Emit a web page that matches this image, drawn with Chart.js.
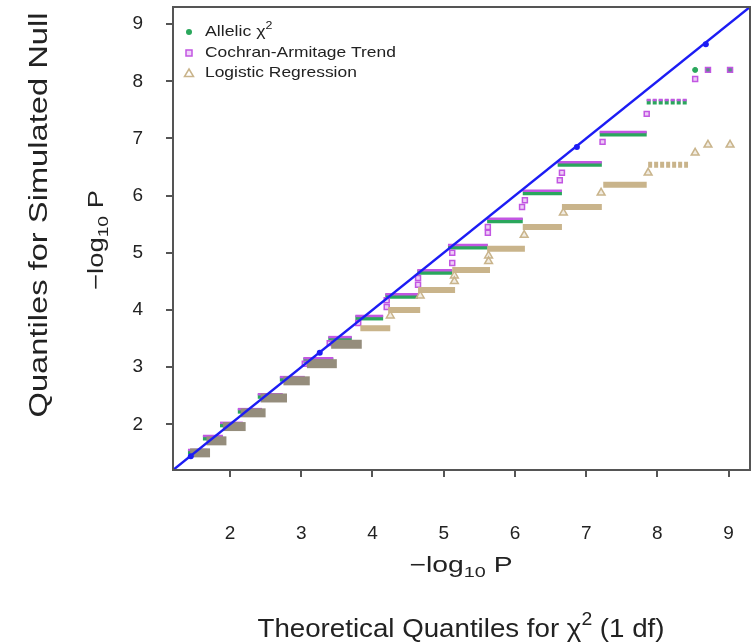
<!DOCTYPE html>
<html>
<head>
<meta charset="utf-8">
<script src="https://cdn.jsdelivr.net/npm/chart.js@4.4.0/dist/chart.umd.min.js"></script>
<style>
html, body { margin: 0; padding: 0; background: #fff; }
#wrap { width: 751px; height: 644px; }
</style>
</head>
<body>
<div id="wrap"><canvas id="qq"></canvas></div>
<script>
// axes
const tickVals = [2, 3, 4, 5, 6, 7, 8, 9];
const axisMin = 1.2;
const axisMax = 9.3;

// reference line y = x and the blue dots on it
const refX = [1.2, 9.3];
const refY = [1.2, 9.3];
const blueDotX = [1.45, 3.26, 6.87, 8.68];
const blueDotY = [1.44, 3.25, 6.85, 8.65];

// Allelic chi2: horizontal runs (level, from x, to x) + lone top points
const allelicLevel = [1.515, 1.76, 1.99, 2.23, 2.49, 2.79, 3.12, 3.49, 3.86, 4.24, 4.66, 5.10, 5.56, 6.05, 6.55, 7.08, 7.64];
const allelicFrom  = [1.41, 1.62, 1.86, 2.11, 2.39, 2.70, 3.03, 3.38, 3.76, 4.18, 4.63, 5.06, 5.61, 6.11, 6.60, 7.19, 7.85];
const allelicTo    = [1.68, 1.90, 2.18, 2.45, 2.74, 3.05, 3.45, 3.71, 4.15, 4.64, 5.12, 5.62, 6.11, 6.66, 7.22, 7.85, 8.43];
const allelicTopX = [8.53, 8.71, 9.02];
const allelicTopY = [8.20, 8.20, 8.20];

// Cochran-Armitage trend: runs sit just above the allelic ones, plus the drop points
const trendLevel = [1.55, 1.795, 2.025, 2.265, 2.525, 2.825, 3.155, 3.525, 3.895, 4.275, 4.695, 5.135, 5.595, 6.085, 6.585, 7.115, 7.675];
const trendFrom  = [1.41, 1.62, 1.86, 2.11, 2.39, 2.70, 3.03, 3.38, 3.76, 4.18, 4.63, 5.06, 5.61, 6.11, 6.60, 7.19, 7.85];
const trendTo    = [1.68, 1.90, 2.18, 2.45, 2.74, 3.05, 3.45, 3.71, 4.15, 4.64, 5.12, 5.62, 6.11, 6.66, 7.22, 7.85, 8.43];
const trendDropX = [3.05, 3.40, 3.80, 4.20, 4.20, 4.64, 4.64, 5.12, 5.12, 5.62, 5.62, 6.14, 6.10, 6.66, 6.63, 7.23, 7.85, 8.53, 8.71, 9.02];
const trendDropY = [3.06, 3.42, 3.77, 4.17, 4.05, 4.56, 4.44, 5.00, 4.82, 5.45, 5.35, 5.92, 5.80, 6.40, 6.27, 6.94, 7.43, 8.04, 8.20, 8.20];

// Logistic regression: runs lag one step behind, plus the drop points
const logitLevel = [1.50, 1.71, 1.96, 2.20, 2.46, 2.76, 3.06, 3.40, 3.68, 4.00, 4.35, 4.70, 5.07, 5.45, 5.80, 6.19, 6.54];
const logitFrom  = [1.44, 1.67, 1.90, 2.15, 2.43, 2.75, 3.08, 3.42, 3.83, 4.22, 4.64, 5.12, 5.61, 6.11, 6.66, 7.24, 7.87];
const logitTo    = [1.72, 1.95, 2.22, 2.50, 2.80, 3.12, 3.50, 3.85, 4.25, 4.67, 5.16, 5.65, 6.14, 6.66, 7.22, 7.85, 8.43];
const logitDropX = [4.25, 4.67, 5.15, 5.15, 5.63, 5.63, 6.13, 6.68, 7.21, 7.87, 8.53, 8.71, 9.02];
const logitDropY = [3.90, 4.25, 4.60, 4.50, 4.95, 4.85, 5.31, 5.70, 6.05, 6.40, 6.75, 6.89, 6.89];

const FONT = "'Liberation Sans', Arial, Helvetica, sans-serif";
const green = '#2aa75c';
const purple = '#c256e2';
const tan = '#c9b48b';
const tanDark = '#958d7c';
const blue = '#1c1cf4';

function runs(levels, from, to) {
    const pts = [];
    levels.forEach((y, i) => {
        pts.push({ x: from[i], y: y });
        pts.push({ x: to[i], y: y });
        pts.push({ x: null, y: null });
    });
    return pts;
}
function pairs(xs, ys) {
    return xs.map((x, i) => ({ x: x, y: ys[i] }));
}

// text with sub/superscripts, optionally squeezed to a width
function richText(ctx, parts, x, y, size, align, fitWidth, rotate) {
    let w = 0;
    const measured = parts.map(p => {
        const s = p[1] ? size * 0.7 : size;
        ctx.font = s + 'px ' + FONT;
        const pw = ctx.measureText(p[0]).width;
        w += pw;
        return { t: p[0], kind: p[1], s: s, w: pw };
    });
    const sx = fitWidth ? fitWidth / w : 1;
    ctx.save();
    ctx.translate(x, y);
    if (rotate) ctx.rotate(-Math.PI / 2);
    ctx.scale(sx, 1);
    ctx.fillStyle = '#222';
    ctx.textBaseline = 'middle';
    ctx.textAlign = 'left';
    let cx = align === 'center' ? -w / 2 : 0;
    measured.forEach(m => {
        ctx.font = m.s + 'px ' + FONT;
        let dy = 0;
        if (m.kind === 'sub') dy = size * 0.3;
        if (m.kind === 'sup') dy = -size * 0.38;
        ctx.fillText(m.t, cx, dy);
        cx += m.w;
    });
    ctx.restore();
}

const decor = {
    id: 'decor',
    beforeDraw(chart) {
        const c = chart.ctx;
        c.save();
        c.fillStyle = '#fff';
        c.fillRect(0, 0, chart.width, chart.height);
        c.restore();
    },
    afterDraw(chart) {
        const c = chart.ctx;
        const a = chart.chartArea;
        // box
        c.save();
        c.strokeStyle = '#555';
        c.lineWidth = 2;
        c.strokeRect(a.left, a.top, a.right - a.left, a.bottom - a.top);
        c.restore();

        // axis titles
        richText(c, [['\u2212log', ''], ['10', 'sub'], [' P', '']], 461, 566, 22, 'center', 103);
        richText(c, [['Theoretical Quantiles for \u03c7', ''], ['2', 'sup'], [' (1 df)', '']], 461, 630, 26, 'center', 407);
        richText(c, [['\u2212log', ''], ['10', 'sub'], [' P', '']], 97, 240, 22, 'center', 100, true);
        richText(c, [['Quantiles for Simulated Null', '']], 40, 215, 26, 'center', 405, true);

        // legend
        const lx = 189, tx = 205, rows = [32, 53, 73];
        c.save();
        c.fillStyle = green;
        c.beginPath(); c.arc(lx, rows[0], 3, 0, Math.PI * 2); c.fill();
        c.strokeStyle = purple; c.lineWidth = 1.5;
        c.fillStyle = 'rgba(194,86,226,0.25)';
        c.fillRect(lx - 3, rows[1] - 3, 6, 6);
        c.strokeRect(lx - 3, rows[1] - 3, 6, 6);
        c.strokeStyle = tan;
        c.beginPath();
        c.moveTo(lx, rows[2] - 4); c.lineTo(lx + 4.5, rows[2] + 3.5); c.lineTo(lx - 4.5, rows[2] + 3.5); c.closePath();
        c.stroke();
        c.restore();
        const sq = 1.16;
        c.font = '15px ' + FONT;
        richText(c, [['Allelic \u03c7', ''], ['2', 'sup']], tx, rows[0], 15, 'left', c.measureText('Allelic \u03c7').width * sq + 8);
        c.font = '15px ' + FONT;
        richText(c, [['Cochran-Armitage Trend', '']], tx, rows[1], 15, 'left', c.measureText('Cochran-Armitage Trend').width * sq);
        c.font = '15px ' + FONT;
        richText(c, [['Logistic Regression', '']], tx, rows[2], 15, 'left', c.measureText('Logistic Regression').width * sq);
    }
};

const tickOpts = {
    font: { size: 19, family: FONT },
    color: '#222',
    autoSkip: false,
    maxRotation: 0
};
const gridOpts = {
    drawOnChartArea: false,
    drawTicks: true,
    tickLength: 7,
    color: '#555',
    lineWidth: 2
};

new Chart(document.getElementById('qq'), {
    type: 'scatter',
    data: {
        datasets: [
            {
                data: pairs(refX, refY), showLine: true, borderColor: blue, borderWidth: 2.5,
                pointRadius: 0
            },
            {
                data: pairs(blueDotX, blueDotY), pointRadius: 3, pointBackgroundColor: blue,
                pointBorderColor: blue, borderWidth: 0
            },
            {
                data: runs(logitLevel, logitFrom, logitTo), showLine: true, pointRadius: 0,
                borderColor: tan, borderWidth: 6, borderCapStyle: 'butt',
                segment: {
                    borderColor: ctx => ctx.p0.parsed.y < 3.5 ? tanDark : tan,
                    borderWidth: ctx => ctx.p0.parsed.y < 3.5 ? 9 : 6,
                    borderDash: ctx => ctx.p0.parsed.y > 6.4 ? [4, 2] : undefined
                }
            },
            {
                data: pairs(logitDropX, logitDropY), pointStyle: 'triangle', pointRadius: 4.5,
                pointBorderColor: tan, pointBackgroundColor: 'rgba(201,180,139,0.25)', pointBorderWidth: 1.5
            },
            {
                data: runs(trendLevel, trendFrom, trendTo), showLine: true, pointRadius: 0,
                borderColor: purple, borderWidth: 2.5, borderCapStyle: 'butt',
                segment: {
                    borderDash: ctx => ctx.p0.parsed.y > 7.5 ? [4, 2] : undefined
                }
            },
            {
                data: pairs(trendDropX, trendDropY), pointStyle: 'rect', pointRadius: 3.5,
                pointBorderColor: purple, pointBackgroundColor: 'rgba(194,86,226,0.3)', pointBorderWidth: 1.5
            },
            {
                data: runs(allelicLevel, allelicFrom, allelicTo), showLine: true, pointRadius: 0,
                borderColor: green, borderWidth: 5, borderCapStyle: 'butt',
                segment: {
                    borderDash: ctx => ctx.p0.parsed.y > 7.5 ? [4, 2] : undefined
                }
            },
            {
                data: pairs(allelicTopX, allelicTopY), pointRadius: 2.5,
                pointBackgroundColor: green, pointBorderColor: green
            }
        ]
    },
    options: {
        responsive: true,
        maintainAspectRatio: false,
        animation: false,
        layout: { autoPadding: false, padding: { left: 0, top: 7, right: 1, bottom: 0 } },
        plugins: { legend: { display: false }, tooltip: { enabled: false } },
        scales: {
            x: {
                type: 'linear', min: axisMin, max: axisMax,
                afterBuildTicks: s => { s.ticks = tickVals.map(v => ({ value: v })); },
                afterFit: s => { s.height = 174; s.paddingLeft = 0; s.paddingRight = 0; },
                grid: gridOpts,
                border: { display: false },
                ticks: Object.assign({ padding: 45 }, tickOpts)
            },
            y: {
                type: 'linear', min: axisMin, max: axisMax,
                afterBuildTicks: s => { s.ticks = tickVals.map(v => ({ value: v })); },
                afterFit: s => { s.width = 173; s.paddingTop = 0; s.paddingBottom = 0; },
                grid: gridOpts,
                border: { display: false },
                ticks: Object.assign({ padding: 23 }, tickOpts)
            }
        }
    },
    plugins: [decor]
});
</script>
</body>
</html>
